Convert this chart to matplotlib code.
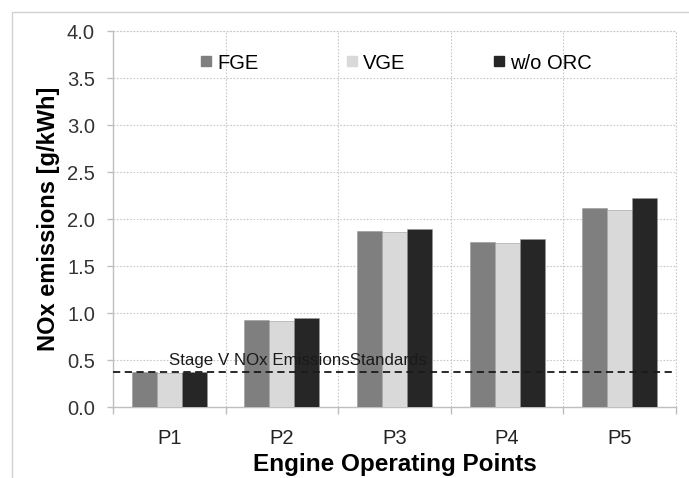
import matplotlib
matplotlib.use("Agg")
import matplotlib.pyplot as plt
import numpy as np
from matplotlib.patches import Rectangle
from matplotlib.lines import Line2D

plt.rcParams['font.family'] = ['Liberation Sans', 'DejaVu Sans']

points = ["P1", "P2", "P3", "P4", "P5"]
fge = [0.37, 0.93, 1.87, 1.76, 2.12]
vge = [0.36, 0.92, 1.86, 1.75, 2.10]
wo_orc = [0.37, 0.95, 1.90, 1.79, 2.22]
series_names = ["FGE", "VGE", "w/o ORC"]
series_colors = ["#7f7f7f", "#d9d9d9", "#262626"]
stage_v_limit = 0.375
yticks = [0.0, 0.5, 1.0, 1.5, 2.0, 2.5, 3.0, 3.5, 4.0]

fig = plt.figure(figsize=(6.89, 4.78), dpi=100)
ax = fig.add_axes([0.164, 0.148, 0.817, 0.787])

# light outer frame of the chart area
fig.patches.append(Rectangle((12 / 689, -0.1), 1.2, 1.1 - 12 / 478,
                             transform=fig.transFigure, fill=False,
                             edgecolor="#d0d0d0", linewidth=1.0))

x = np.arange(len(points))
w = 0.222
for i, (vals, name, col) in enumerate(zip([fge, vge, wo_orc], series_names, series_colors)):
    ax.bar(x + (i - 1) * w, vals, width=w, color=col, edgecolor="#9a9a9a",
           linewidth=0.4, zorder=3, label=name)

ax.axhline(stage_v_limit, color="#1a1a1a", linestyle=(0, (4, 2.5)), linewidth=1.3, zorder=4)
ax.text(-0.005, stage_v_limit + 0.045, "Stage V NOx EmissionsStandards",
        fontsize=12.2, color="#1a1a1a", ha="left", va="bottom", zorder=5)

grid_style = dict(linestyle=(0, (1.5, 1.5)), color="#c8c8c8", linewidth=0.8)

ax.set_xlim(-0.5, len(points) - 0.5)
ax.set_ylim(0, 4.0)
ax.set_yticks(yticks)
ax.set_yticklabels([f"{v:.1f}" for v in yticks], fontsize=14.5, color="#333333")
ax.set_xticks(x)
ax.set_xticklabels(points, fontsize=14.5, color="#222222")
ax.tick_params(axis="x", length=0, pad=16)
ax.set_xticks(np.arange(-0.5, len(points)), minor=True)
ax.tick_params(axis="x", which="minor", length=5, color="#bfbfbf", width=1)
ax.tick_params(axis="y", length=4.5, color="#bfbfbf", width=1, pad=8.5)

ax.grid(axis="y", which="major", zorder=0, **grid_style)
ax.grid(axis="x", which="minor", zorder=0, **grid_style)
ax.set_axisbelow(True)

for side in ["top", "right"]:
    ax.spines[side].set_visible(False)
for side in ["left", "bottom"]:
    ax.spines[side].set_color("#bfbfbf")
    ax.spines[side].set_linewidth(1.0)
ax.axhline(4.0, zorder=0, clip_on=False, **grid_style)
ax.axvline(len(points) - 0.5, zorder=0, clip_on=False, **grid_style)

ax.set_ylabel("NOx emissions [g/kWh]", fontsize=17, fontweight="bold", labelpad=5)
ax.set_xlabel("Engine Operating Points", fontsize=17.5, fontweight="bold", labelpad=3)

handles = [Line2D([], [], marker="s", linestyle="none", markersize=7.5,
                  markerfacecolor=c, markeredgecolor=c) for c in series_colors]
ax.legend(handles, series_names, loc="center", bbox_to_anchor=(0.504, 0.915),
          ncol=3, frameon=False, fontsize=14.5, handlelength=0.5,
          handletextpad=0.3, columnspacing=4.4)

fig.savefig("out.png", dpi=100)
